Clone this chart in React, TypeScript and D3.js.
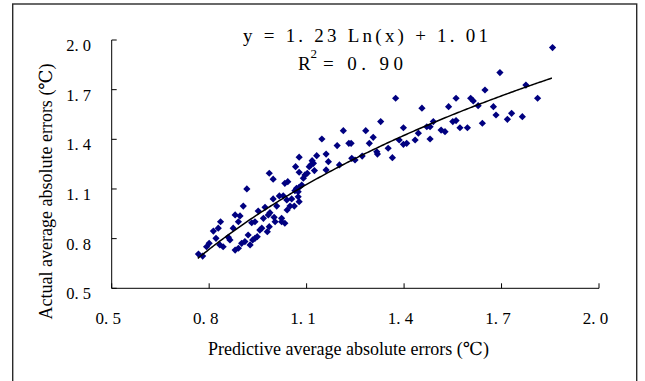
import React from "react";
import * as d3 from "d3";

// Predictive average absolute errors (x)
const predicted: number[] = [
  0.916, 0.767, 0.78, 0.792, 0.8, 0.813, 0.821, 0.828, 0.835, 0.833,
  0.843, 0.859, 0.864, 0.874, 0.88, 0.895, 0.89, 0.905, 0.88, 0.89,
  0.9, 0.91, 0.92, 0.926, 0.931, 0.941, 0.934, 0.941, 0.948, 0.956,
  0.962, 0.979, 0.985, 1.003, 1.023, 1.033,
  1.213, 1.282, 1.147, 1.23, 1.237, 1.293, 1.305, 1.194, 1.316, 1.318,
  1.16, 1.131, 1.077, 1.167, 1.117, 1.121, 1.113, 1.239, 1.249, 1.271,
  1.201, 1.066, 1.108, 1.124, 1.16, 1.077, 1.102, 1.095, 0.985, 0.997,
  1.09, 1.042, 1.033, 1.085, 1.077, 1.069, 1.074, 1.064, 1.028, 1.016,
  0.997, 1.054, 1.074, 1.039, 1.077, 1.008, 1.049, 1.062, 1.04, 0.972,
  0.951, 0.987, 0.982, 1.0, 1.023, 0.967,
  1.857, 1.695, 1.775, 1.811, 1.649, 1.374, 1.56, 1.605, 1.613, 1.628,
  1.675, 1.455, 1.537, 1.731, 1.718, 1.683, 1.764, 1.328, 1.49, 1.47,
  1.48, 1.55, 1.56, 1.572, 1.595, 1.641, 1.398, 1.514, 1.526, 1.444,
  1.385, 1.398, 1.408, 1.434, 1.48, 1.351, 1.364,
];

// Actual average absolute errors (y)
const actual: number[] = [
  1.1, 0.707, 0.695, 0.751, 0.772, 0.846, 0.802, 0.863, 0.902, 0.762,
  0.751, 0.808, 0.792, 0.863, 0.943, 0.937, 0.902, 0.997, 0.731, 0.742,
  0.772, 0.782, 0.822, 0.762, 0.896, 0.902, 0.792, 0.802, 0.812, 0.852,
  0.863, 0.842, 0.872, 0.902, 0.902, 0.893,
  1.452, 1.452, 1.402, 1.376, 1.376, 1.376, 1.412, 1.362, 1.325, 1.311,
  1.311, 1.301, 1.292, 1.265, 1.271, 1.255, 1.245, 1.285, 1.275, 1.299,
  1.245, 1.235, 1.235, 1.211, 1.215, 1.201, 1.195, 1.185, 1.195, 1.159,
  1.165, 1.144, 1.134, 1.124, 1.11, 1.104, 1.084, 1.09, 1.059, 1.058,
  1.04, 1.04, 1.053, 1.034, 1.023, 0.997, 0.997, 0.997, 0.973, 0.989,
  0.967, 0.957, 0.943, 0.929, 0.923, 0.923,
  1.954, 1.803, 1.728, 1.648, 1.698, 1.648, 1.648, 1.648, 1.632, 1.603,
  1.597, 1.588, 1.597, 1.557, 1.521, 1.547, 1.537, 1.507, 1.507, 1.476,
  1.476, 1.507, 1.513, 1.47, 1.47, 1.497, 1.47, 1.456, 1.446, 1.437,
  1.396, 1.37, 1.376, 1.396, 1.402, 1.346, 1.289,
];

const xTicks: number[] = [0.5, 0.8, 1.1, 1.4, 1.7, 2.0];
const yTicks: number[] = [0.5, 0.8, 1.1, 1.4, 1.7, 2.0];

// Logarithmic trend line: y = 1.23 ln(x) + 1.01
const trendCoef: number[] = [1.23, 1.01];
const trendRange: number[] = [0.765, 1.855];

const equationText = "y = 1. 23 Ln(x) + 1. 01";
const r2Value = "0. 90";
const xTitle = "Predictive average absolute errors (\u2103)";
const yTitle = "Actual average absolute errors (\u2103)";

const fmt = (d: number) => d.toFixed(1).replace(".", ". ");

export default function App() {
  const W = 645;
  const H = 381;
  const x = d3.scaleLinear().domain([0.5, 2.0]).range([111.7, 599]);
  const y = d3.scaleLinear().domain([0.5, 2.0]).range([288.3, 40]);

  const trendPts = d3
    .range(0, 201)
    .map((i) => trendRange[0] + ((trendRange[1] - trendRange[0]) * i) / 200)
    .map((v) => [v, trendCoef[0] * Math.log(v) + trendCoef[1]] as [number, number]);
  const linePath = d3
    .line<[number, number]>()
    .x((d) => x(d[0]))
    .y((d) => y(d[1]))(trendPts);

  const diamond = d3.symbol().type(d3.symbolSquare).size(26)() as string;
  const font = "Liberation Serif, DejaVu Serif, serif";
  const [x0, x1] = x.range();
  const [y0, y1] = y.range();

  return (
    <svg
      width={W}
      height={H}
      style={{ position: "absolute", left: 0, top: 0, background: "#fff", fontFamily: font }}
    >
      <rect x={0} y={0} width={W} height={H} fill="#fff" />
      <rect x={12.7} y={4} width={624} height={400} fill="none" stroke="#2a2a2a" strokeWidth={1.4} />

      {/* axes */}
      <line x1={x0} x2={x1} y1={y0} y2={y0} stroke="#000" strokeWidth={1} />
      <line x1={x0} x2={x0} y1={y0} y2={y1} stroke="#000" strokeWidth={1} />
      {xTicks.map((t) => (
        <g key={"xt" + t}>
          <line x1={x(t)} x2={x(t)} y1={y0} y2={y0 - 5} stroke="#000" strokeWidth={1} />
          <text x={x(t) - 3.5} y={324} fontSize={17} textAnchor="middle" fill="#000">
            {fmt(t)}
          </text>
        </g>
      ))}
      {yTicks.map((t) => (
        <g key={"yt" + t}>
          <line x1={x0} x2={x0 + 5} y1={y(t)} y2={y(t)} stroke="#000" strokeWidth={1} />
          <text x={91} y={y(t) + 11} fontSize={16.5} textAnchor="end" fill="#000">
            {fmt(t)}
          </text>
        </g>
      ))}

      {/* points */}
      {predicted.map((p, i) => (
        <path
          key={"pt" + i}
          d={diamond}
          transform={`translate(${x(p)},${y(actual[i])}) rotate(45)`}
          fill="#000080"
        />
      ))}

      {/* trend line */}
      <path d={linePath || ""} fill="none" stroke="#000" strokeWidth={1.5} />

      {/* equation */}
      <text x={243} y={42} fontSize={19} textLength={245} lengthAdjust="spacing" fill="#000">
        {equationText}
      </text>
      <text x={298} y={70} fontSize={19} fill="#000">R</text>
      <text x={310.5} y={58} fontSize={13} fill="#000">2</text>
      <text x={323} y={70} fontSize={19} textLength={80} lengthAdjust="spacing" fill="#000">
        {"= " + r2Value}
      </text>

      {/* axis titles */}
      <text x={348.5} y={355} fontSize={18} textAnchor="middle" fill="#000">
        {xTitle}
      </text>
      <text
        transform={`translate(52,191.5) rotate(-90)`}
        fontSize={18}
        textAnchor="middle"
        fill="#000"
      >
        {yTitle}
      </text>
    </svg>
  );
}
